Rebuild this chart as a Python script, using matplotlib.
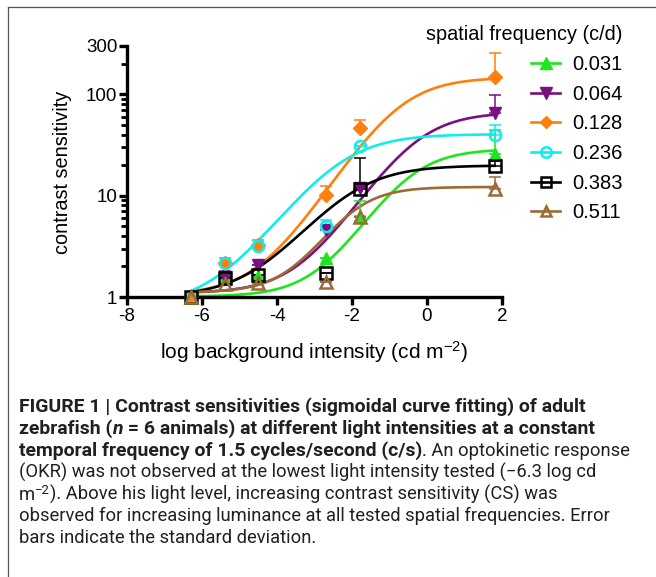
import numpy as np
import matplotlib
matplotlib.use("Agg")
import matplotlib.pyplot as plt
from matplotlib import font_manager
from matplotlib.lines import Line2D

# log background intensity (cd m-2)
log_intensity = [-6.3, -5.4, -4.5, -2.7, -1.8, 1.8]

# mean contrast sensitivity and upper SD per spatial frequency (c/d)
cs_031 = [1.0, 1.5, 1.6, 2.4, 6.3, 26.0]
sd_031 = [0, 0, 0, 0, 2.5, 18.0]
cs_064 = [1.0, 1.59, 2.07, 4.6, 11.9, 66.0]
sd_064 = [0, 0.2, 0, 0.5, 0, 32.0]
cs_128 = [1.0, 2.19, 3.27, 10.1, 46.8, 150.0]
sd_128 = [0, 0.25, 0.35, 2.5, 9.0, 105.0]
cs_236 = [1.0, 2.15, 3.2, 4.97, 30.8, 39.3]
sd_236 = [0, 0.28, 0.4, 0.8, 0, 11.0]
cs_383 = [1.0, 1.54, 1.65, 1.71, 11.7, 19.5]
sd_383 = [0, 0, 0, 0, 12.0, 2.4]
cs_511 = [1.0, 1.35, 1.37, 1.42, 6.2, 11.7]
sd_511 = [0, 0, 0, 0, 0, 3.6]

# sigmoid fit parameters: bottom, top, logEC50, hill slope
fit_031 = [1.01, 28.9, -0.50, 0.62]
fit_064 = [1.09, 66.7, -0.30, 0.58]
fit_128 = [1.05, 147.0, -0.75, 0.58]
fit_236 = [0.80, 40.5, -2.35, 0.52]
fit_383 = [1.00, 19.9, -2.05, 0.52]
fit_511 = [1.11, 12.2, -2.05, 0.70]

labels = ["0.031", "0.064", "0.128", "0.236", "0.383", "0.511"]

series = [
    (cs_031, sd_031, fit_031, "#1ee61e", "^", True),
    (cs_064, sd_064, fit_064, "#7a0f80", "v", True),
    (cs_128, sd_128, fit_128, "#ff7f0e", "D", True),
    (cs_236, sd_236, fit_236, "#12ecec", "o", False),
    (cs_383, sd_383, fit_383, "#000000", "s", False),
    (cs_511, sd_511, fit_511, "#9b6a35", "^", False),
]

names = {f.name for f in font_manager.fontManager.ttflist}
axis_font = "Liberation Sans" if "Liberation Sans" in names else "DejaVu Sans"
cap_font = axis_font
for cand in ["Roboto", "Liberation Sans"]:
    if cand in names:
        cap_font = cand
        break

plt.rcParams["font.family"] = [axis_font, "DejaVu Sans"]
plt.rcParams["mathtext.fontset"] = "custom"
plt.rcParams["mathtext.rm"] = axis_font
plt.rcParams["mathtext.it"] = axis_font + ":italic"
plt.rcParams["mathtext.bf"] = axis_font + ":bold"

W, H = 656, 577
fig = plt.figure(figsize=(W / 100, H / 100), dpi=100)
ax = fig.add_axes([127 / W, 1 - 297 / H, 375 / W, 251 / H])

xs = np.linspace(-6.3, 1.8, 300)
handles = []
for (cs, sd, fit, col, mk, filled), lab in zip(series, labels):
    b, t, c, h = fit
    ax.plot(xs, b + (t - b) / (1 + 10 ** ((c - xs) * h)), color=col, lw=1.9,
            clip_on=False, zorder=2)
    yerr = [np.zeros(len(sd)), sd]
    ax.errorbar(log_intensity, cs, yerr=yerr, fmt="none", ecolor=col,
                elinewidth=1.1, capsize=4.5, capthick=1.1, clip_on=False, zorder=3)
    ms = 7.5 if mk == "D" else 8.5
    ax.plot(log_intensity, cs, ls="none", marker=mk, ms=ms if filled else 8,
            mfc=col if filled else "none", mec=col, mew=1.0 if filled else 1.8,
            clip_on=False, zorder=4)
    handles.append(Line2D([], [], color=col, lw=1.9, marker=mk,
                          ms=(6.5 if mk == "D" else 8) if filled else 7.5,
                          mfc=col if filled else "none", mec=col,
                          mew=1.0 if filled else 1.8))

ax.set_yscale("log")
ax.set_xlim(-8, 2)
ax.set_ylim(1, 300)
ax.set_xticks([-8, -6, -4, -2, 0, 2])
ax.set_xticklabels(["-8", "-6", "-4", "-2", "0", "2"])
ax.set_yticks([1, 10, 100, 300])
ax.set_yticklabels(["1", "10", "100", "300"])
ax.set_yticks([2, 3, 4, 5, 6, 7, 8, 9, 20, 30, 40, 50, 60, 70, 80, 90, 200], minor=True)
ax.yaxis.set_minor_formatter(matplotlib.ticker.NullFormatter())
for s in ["top", "right"]:
    ax.spines[s].set_visible(False)
for s in ["left", "bottom"]:
    ax.spines[s].set_linewidth(2.4)
ax.tick_params(which="major", length=6, width=2.4, labelsize=13.5, pad=2)
ax.tick_params(axis="y", which="minor", length=4, width=2.0)
ax.tick_params(axis="y", pad=1)

fig.text(314 / W, 1 - 352 / H, r"log background intensity (cd m$^{\mathrm{-2}}$)",
         ha="center", va="center", fontsize=15)
fig.text(62 / W, 1 - 172 / H, "contrast sensitivity", rotation=90,
         ha="center", va="center", fontsize=14.3)

leg = ax.legend(handles, labels, title="spatial frequency (c/d)", loc="upper right",
                bbox_to_anchor=(623 / W, 1 - 25 / H), bbox_transform=fig.transFigure,
                frameon=False, fontsize=14.5, title_fontsize=14.3, alignment="right",
                handlelength=1.45, handletextpad=0.6, labelspacing=0.53,
                borderaxespad=0, borderpad=0)
leg._legend_box.sep = 8

# partial frame around the figure panel
fig.add_artist(Line2D([8 / W, 1], [1 - 7 / H, 1 - 7 / H], color="#555555", lw=0.9,
                      transform=fig.transFigure))
fig.add_artist(Line2D([8 / W, 8 / W], [0, 1 - 7 / H], color="#555555", lw=0.9,
                      transform=fig.transFigure))

renderer = fig.canvas.get_renderer()
cap_col = "#231f20"
line1 = "FIGURE 1 | Contrast sensitivities (sigmoidal curve fitting) of adult"

# size the caption font so the first line spans the same width as in the reference
probe = fig.text(0, 0, line1, fontsize=12, fontweight="bold", family=[cap_font, "DejaVu Sans"])
cap_size = 12 * 564 / probe.get_window_extent(renderer).width
probe.remove()
reg = 0.95  # regular text runs a little narrower than the bold in the reference


def runs(y_px, parts, x_px=19):
    x = x_px / W
    for txt, weight, style, scale, dy in parts:
        t = fig.text(x, 1 - (y_px - dy) / H, txt, fontsize=cap_size * scale,
                     fontweight=weight, fontstyle=style, family=[cap_font, "DejaVu Sans"],
                     color=cap_col, va="baseline", ha="left")
        x += t.get_window_extent(renderer).width / W


B, N = "bold", "normal"
runs(412, [(line1, B, N, 1, 0)])
runs(434, [("zebrafish (", B, N, 1, 0), ("n", B, "italic", 1, 0),
           (" = 6 animals) at different light intensities at a constant", B, N, 1, 0)])
runs(456, [("temporal frequency of 1.5 cycles/second (c/s)", B, N, 1, 0),
           (". An optokinetic response", N, N, reg, 0)])
runs(478, [("(OKR) was not observed at the lowest light intensity tested (\u22126.3 log cd", N, N, reg, 0)])
runs(499.5, [("m", N, N, reg, 0), ("\u22122", N, N, 0.68, 6),
             ("). Above his light level, increasing contrast sensitivity (CS) was", N, N, reg, 0)])
runs(521, [("observed for increasing luminance at all tested spatial frequencies. Error", N, N, reg, 0)])
runs(543, [("bars indicate the standard deviation.", N, N, reg, 0)])

fig.savefig("out.png", dpi=100)
